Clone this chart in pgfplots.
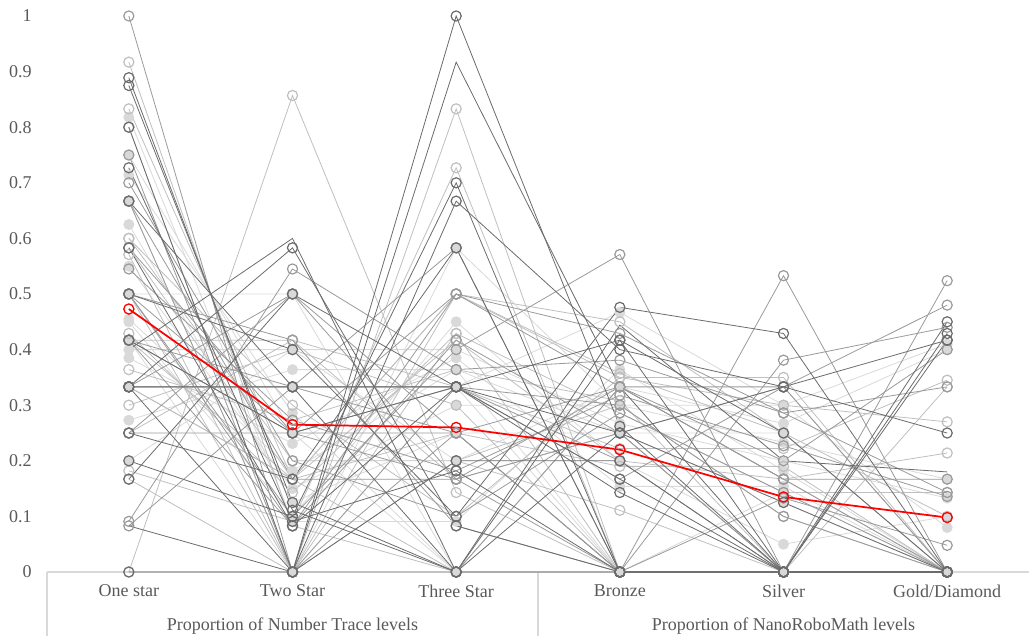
\documentclass[border=0pt]{standalone}
\usepackage{fontspec}
\setmainfont{Liberation Serif}
\usepackage{pgfplots}
\pgfplotsset{compat=1.18}
\definecolor{cD}{HTML}{6B6B6B}
\definecolor{cM}{HTML}{9A9A9A}
\definecolor{cL}{HTML}{BFBFBF}
\definecolor{cV}{HTML}{D9D9D9}
\definecolor{txt}{HTML}{595959}
\definecolor{axl}{HTML}{D9D9D9}
\pgfplotsset{
 base/.style={line width=0.6pt, mark=o, mark size=3.8pt, mark options={line width=0.9pt, solid}},
 D/.style={base, cD},
 M/.style={base, cM},
 L/.style={base, cL},
 V/.style={base, cV, mark=*, mark options={fill=cV, draw=cV}},
 Dn/.style={cD, line width=0.6pt, mark=none},
}
\newcommand{\ser}[7]{\addplot[#1] coordinates {(0,#2)(1,#3)(2,#4)(3,#5)(4,#6)(5,#7)};}
\begin{document}
\begin{tikzpicture}
\begin{axis}[
 name=ax,
 scale only axis, width=736.5pt, height=417pt,
 xmin=-0.5, xmax=5.5, ymin=0, ymax=1,
 clip=false,
 axis line style={draw=none},
 major tick length=0pt,
 xtick={0,1,2,3,4,5},
 xticklabels={One star,Two Star,Three Star,Bronze,Silver,Gold/Diamond},
 ytick={0,0.1,0.2,0.3,0.4,0.5,0.6,0.7,0.8,0.9,1},
 yticklabels={0,0.1,0.2,0.3,0.4,0.5,0.6,0.7,0.8,0.9,1},
 tick label style={font=\fontsize{13.5}{16}\selectfont, text=txt},
 xticklabel style={yshift=-6pt},
 yticklabel style={xshift=-8pt},
]
\draw[axl, line width=0.8pt] (axis cs:-0.5,0) -- (axis cs:5.5,0);
\draw[axl, line width=0.8pt] (axis cs:-0.5,0) -- ([yshift=-48pt]axis cs:-0.5,0);
\draw[axl, line width=0.8pt] (axis cs:2.5,0) -- ([yshift=-48pt]axis cs:2.5,0);
\node[anchor=base, font=\fontsize{13.5}{16}\selectfont, text=txt] at ([yshift=-44pt]axis cs:1,0) {Proportion of Number Trace levels};
\node[anchor=base, font=\fontsize{13.5}{16}\selectfont, text=txt] at ([yshift=-44pt]axis cs:4,0) {Proportion of NanoRoboMath levels};
\ser{V}{0.818}{0.091}{0.091}{0.364}{0.182}{0.000}
\ser{V}{0.750}{0.250}{0.000}{0.000}{0.000}{0.000}
\ser{V}{0.714}{0.286}{0.000}{0.000}{0.143}{0.000}
\ser{V}{0.667}{0.000}{0.333}{0.000}{0.000}{0.000}
\ser{V}{0.625}{0.125}{0.250}{0.250}{0.125}{0.000}
\ser{V}{0.500}{0.500}{0.000}{0.000}{0.000}{0.000}
\ser{V}{0.455}{0.182}{0.364}{0.250}{0.250}{0.000}
\ser{V}{0.400}{0.400}{0.200}{0.333}{0.267}{0.400}
\ser{V}{0.385}{0.231}{0.385}{0.154}{0.154}{0.000}
\ser{V}{0.273}{0.364}{0.364}{0.000}{0.000}{0.000}
\ser{V}{0.200}{0.400}{0.400}{0.267}{0.200}{0.133}
\ser{V}{0.417}{0.000}{0.583}{0.300}{0.300}{0.410}
\ser{V}{0.333}{0.333}{0.333}{0.467}{0.300}{0.080}
\ser{V}{0.450}{0.100}{0.450}{0.200}{0.050}{0.100}
\ser{V}{0.550}{0.150}{0.300}{0.300}{0.233}{0.167}
\ser{L}{0.917}{0.083}{0.000}{0.333}{0.167}{0.000}
\ser{L}{0.833}{0.167}{0.000}{0.000}{0.000}{0.000}
\ser{L}{0.600}{0.200}{0.200}{0.300}{0.100}{0.000}
\ser{L}{0.571}{0.000}{0.429}{0.000}{0.000}{0.000}
\ser{L}{0.500}{0.000}{0.500}{0.450}{0.250}{0.100}
\ser{L}{0.429}{0.143}{0.429}{0.286}{0.143}{0.143}
\ser{L}{0.417}{0.417}{0.167}{0.250}{0.333}{0.000}
\ser{L}{0.364}{0.273}{0.364}{0.308}{0.000}{0.333}
\ser{L}{0.333}{0.167}{0.500}{0.350}{0.300}{0.270}
\ser{L}{0.300}{0.400}{0.300}{0.000}{0.000}{0.000}
\ser{L}{0.250}{0.417}{0.333}{0.222}{0.222}{0.345}
\ser{L}{0.182}{0.091}{0.727}{0.000}{0.000}{0.000}
\ser{L}{0.167}{0.000}{0.833}{0.000}{0.000}{0.000}
\ser{L}{0.000}{0.857}{0.143}{0.000}{0.000}{0.000}
\ser{L}{0.600}{0.300}{0.100}{0.350}{0.350}{0.000}
\ser{L}{0.417}{0.167}{0.417}{0.200}{0.167}{0.214}
\ser{L}{0.333}{0.167}{0.500}{0.357}{0.250}{0.000}
\ser{L}{0.583}{0.167}{0.250}{0.190}{0.190}{0.000}
\ser{L}{0.800}{0.000}{0.200}{0.111}{0.000}{0.000}
\ser{M}{1.000}{0.000}{0.000}{0.333}{0.333}{0.000}
\ser{M}{0.667}{0.167}{0.167}{0.250}{0.000}{0.000}
\ser{M}{0.583}{0.250}{0.167}{0.333}{0.167}{0.000}
\ser{M}{0.545}{0.273}{0.182}{0.318}{0.227}{0.136}
\ser{M}{0.500}{0.250}{0.250}{0.333}{0.167}{0.167}
\ser{M}{0.417}{0.083}{0.500}{0.333}{0.200}{0.400}
\ser{M}{0.417}{0.333}{0.250}{0.000}{0.000}{0.000}
\ser{M}{0.333}{0.333}{0.333}{0.200}{0.000}{0.000}
\ser{M}{0.333}{0.500}{0.167}{0.000}{0.000}{0.000}
\ser{M}{0.250}{0.500}{0.250}{0.000}{0.000}{0.000}
\ser{M}{0.250}{0.250}{0.500}{0.429}{0.286}{0.143}
\ser{M}{0.091}{0.545}{0.364}{0.381}{0.286}{0.333}
\ser{M}{0.083}{0.333}{0.583}{0.000}{0.133}{0.048}
\ser{M}{0.500}{0.100}{0.400}{0.571}{0.000}{0.000}
\ser{M}{0.500}{0.417}{0.083}{0.000}{0.533}{0.000}
\ser{M}{0.500}{0.083}{0.417}{0.250}{0.000}{0.524}
\ser{M}{0.667}{0.000}{0.333}{0.167}{0.333}{0.480}
\ser{M}{0.750}{0.000}{0.250}{0.000}{0.381}{0.440}
\ser{M}{0.417}{0.250}{0.333}{0.300}{0.100}{0.000}
\ser{M}{0.700}{0.200}{0.100}{0.286}{0.143}{0.000}
\ser{D}{0.889}{0.111}{0.000}{0.000}{0.000}{0.000}
\ser{D}{0.875}{0.125}{0.000}{0.250}{0.125}{0.000}
\ser{D}{0.800}{0.000}{0.200}{0.200}{0.000}{0.000}
\ser{D}{0.727}{0.091}{0.182}{0.000}{0.000}{0.000}
\ser{D}{0.583}{0.083}{0.333}{0.417}{0.250}{0.000}
\ser{D}{0.417}{0.250}{0.333}{0.167}{0.000}{0.417}
\ser{D}{0.333}{0.000}{0.667}{0.400}{0.333}{0.250}
\ser{D}{0.333}{0.333}{0.333}{0.143}{0.000}{0.429}
\ser{D}{0.333}{0.583}{0.083}{0.000}{0.000}{0.000}
\ser{D}{0.250}{0.167}{0.583}{0.000}{0.000}{0.000}
\ser{D}{0.200}{0.100}{0.700}{0.000}{0.000}{0.000}
\ser{D}{0.167}{0.500}{0.333}{0.250}{0.333}{0.417}
\ser{D}{0.000}{0.000}{1.000}{0.262}{0.000}{0.000}
\ser{D}{0.500}{0.400}{0.100}{0.476}{0.429}{0.000}
\ser{D}{0.667}{0.333}{0.000}{0.417}{0.000}{0.450}
\ser{Dn}{0.083}{0.000}{0.917}{0.333}{0.000}{0.000}
\ser{Dn}{0.400}{0.600}{0.000}{0.444}{0.200}{0.180}
\addplot[red, line width=1.3pt, mark=o, mark size=3.8pt, mark options={line width=1pt}] coordinates {(0,0.473)(1,0.265)(2,0.260)(3,0.220)(4,0.135)(5,0.098)};
\end{axis}
\pgfresetboundingbox
\path ([xshift=-35.25pt,yshift=-48pt]ax.south west) rectangle ([yshift=12pt]ax.north east);
\end{tikzpicture}
\end{document}
